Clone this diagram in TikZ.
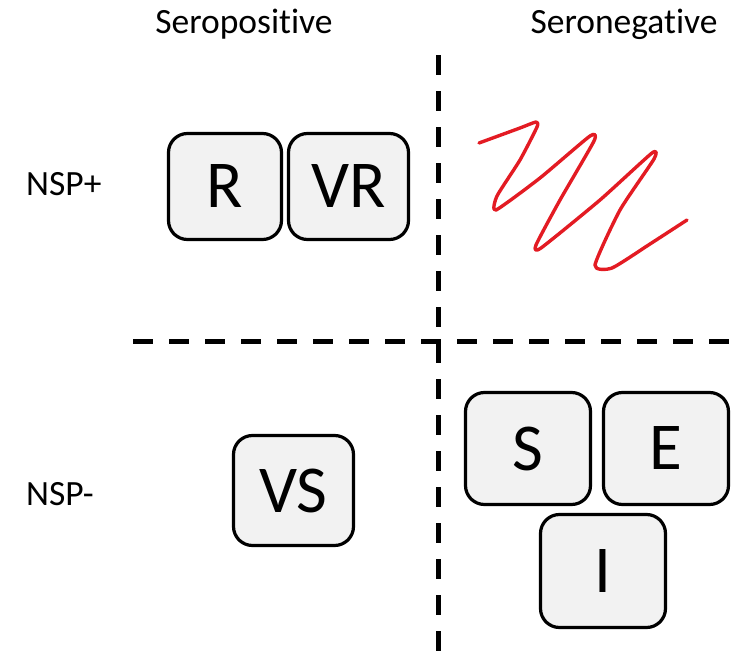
\documentclass[tikz,border=0pt]{standalone}
\usepackage{fontspec}
\setmainfont{Carlito}[Ligatures=NoCommon]
\definecolor{boxfill}{HTML}{F2F2F2}
\definecolor{scribred}{HTML}{E31B23}
\begin{document}
\begin{tikzpicture}[x=1pt,y=-1pt,
  compbox/.style={draw=black,line width=3.2pt,fill=boxfill,rounded corners=19pt,inner sep=0pt,font=\fontsize{67}{67}\selectfont},
  axlabel/.style={font=\fontsize{35.5}{35.5}\selectfont,inner sep=0pt},
  divider/.style={line width=5pt,dash pattern=on 20pt off 16pt}]
\useasboundingbox (0,0) rectangle (740,656);
% dividers
\coordinate (vtop) at (438,55);
\coordinate (vbot) at (438,656);
\coordinate (hl) at (133,341);
\coordinate (hr) at (740,341);
\draw[divider] (vtop) -- (vbot);
\draw[divider] (hl) -- (hr);
% headers
\node[axlabel] (seropos) at (244,24) {Seropositive};
\node[axlabel] (seroneg) at (624,24) {Seronegative};
\node[axlabel,anchor=west] (nspp) at (26,184) {NSP+};
\node[axlabel,anchor=west] (nspm) at (26,494) {NSP-};
% boxes
\node[compbox,minimum width=113pt,minimum height=106pt] (R) at (225,186.5) {R};
\node[compbox,minimum width=120pt,minimum height=106pt] (VR) at (348.5,186.5) {VR};
\node[compbox,minimum width=120pt,minimum height=110pt] (VS) at (293.5,490.5) {VS};
\node[compbox,minimum width=125pt,minimum height=112pt] (S) at (528,448.5) {S};
\node[compbox,minimum width=125pt,minimum height=112pt] (E) at (666,448.5) {E};
\node[compbox,minimum width=125pt,minimum height=113pt] (I) at (603,571) {I};
% scribble
\draw[scribred,line width=3.4pt,line cap=round,line join=round]
  plot[smooth,tension=0.35] coordinates {(479,143) (520,128) (536,122) (537,127) (520,160) (497,196) (496,210) (540,178) (590,136) (594,141) (560,200) (536,245) (541,248) (600,200) (652,153) (654,159) (620,210) (595,265) (612,268) (650,244) (687,220)};
\end{tikzpicture}
\end{document}
